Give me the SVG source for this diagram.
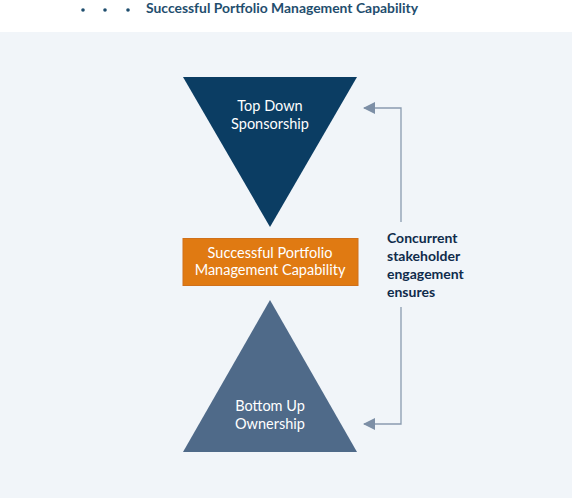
<svg xmlns="http://www.w3.org/2000/svg" width="572" height="498" viewBox="0 0 572 498">
<style>
.wt{font-family:Lato,"Open Sans",sans-serif;font-size:14.5px;fill:#ffffff;text-anchor:middle}
.lb{font-family:Lato,"Open Sans",sans-serif;font-size:14px;font-weight:bold;fill:#0f2b4b}
.cn{fill:none;stroke:#8a9bb0;stroke-width:1.3}
</style>
<defs>
<marker id="ah" viewBox="0 0 12 12" refX="11" refY="6" markerWidth="12" markerHeight="12" markerUnits="userSpaceOnUse" orient="auto">
<path d="M0,6 L12,0 L12,12 Z" fill="#7d8fa6" transform="rotate(180 6 6)"/>
</marker>
</defs>
<rect x="0" y="0" width="572" height="32" fill="#ffffff"/>
<rect x="0" y="32" width="572" height="466" fill="#f1f5f9"/>
<g id="header">
<circle cx="83" cy="10" r="1.8" fill="#1f4e6e"/>
<circle cx="105" cy="10" r="1.8" fill="#1f4e6e"/>
<circle cx="128" cy="10" r="1.8" fill="#1f4e6e"/>
<text x="146" y="13" style="font-family:Lato,'Open Sans',sans-serif;font-size:13.9px;font-weight:bold;fill:#1f4e6e">Successful Portfolio Management Capability</text>
</g>
<g id="connectors">
<path class="cn" d="M401,222 V108 H364" marker-end="url(#ah)"/>
<path class="cn" d="M401,307 V424 H364" marker-end="url(#ah)"/>
</g>
<g id="top">
<polygon points="183,77 357,77 270,227" fill="#0b3d63"/>
<text class="wt" x="270" y="111">Top Down</text>
<text class="wt" x="270" y="129">Sponsorship</text>
</g>
<g id="center">
<rect x="183" y="238.5" width="175" height="47" fill="#e07a12" stroke="#d0701a" stroke-width="1"/>
<text class="wt" x="270" y="258">Successful Portfolio</text>
<text class="wt" x="270" y="275">Management Capability</text>
</g>
<g id="bottom">
<polygon points="270,300 357,452 183,452" fill="#4f6a89"/>
<text class="wt" x="270" y="411">Bottom Up</text>
<text class="wt" x="270" y="429">Ownership</text>
</g>
<g id="label">
<text class="lb" x="387" y="243">Concurrent</text>
<text class="lb" x="387" y="261">stakeholder</text>
<text class="lb" x="387" y="279">engagement</text>
<text class="lb" x="387" y="297">ensures</text>
</g>
</svg>
